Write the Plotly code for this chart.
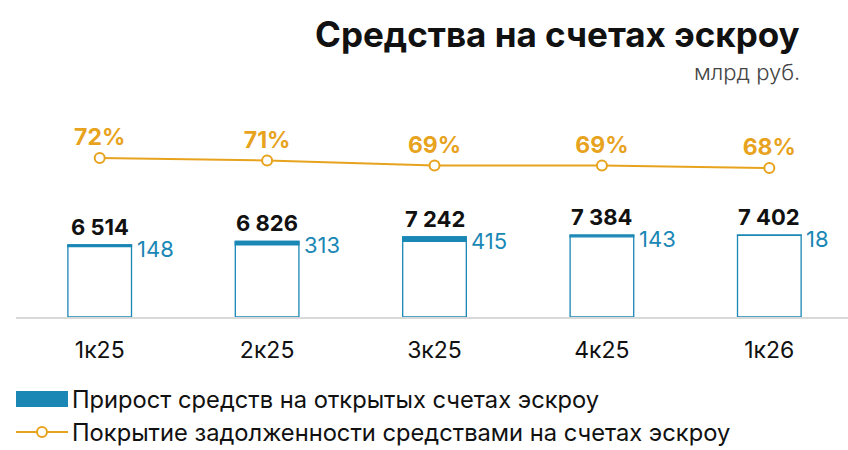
import plotly.graph_objects as go

quarters = ["1к25", "2к25", "3к25", "4к25", "1к26"]
escrow_total = [6514, 6826, 7242, 7384, 7402]
escrow_growth = [148, 313, 415, 143, 18]
coverage_pct = [72, 71, 69, 69, 68]

BLUE = "#1a87b5"
ORANGE = "#e8a31e"
FONT = "Inter"

def fmt(v):
    return f"{v:,}".replace(",", " ")

x = list(range(len(quarters)))
bar_w = 0.38

fig = go.Figure()

# whole bar: white with a blue outline
fig.add_trace(go.Bar(
    x=x, y=escrow_total, width=bar_w,
    marker=dict(color="white", line=dict(color=BLUE, width=1.3)),
    hoverinfo="skip", showlegend=False,
))
# growth part sitting on top of the bar
fig.add_trace(go.Bar(
    x=x, y=escrow_growth, base=[t - g for t, g in zip(escrow_total, escrow_growth)],
    width=bar_w, marker=dict(color=BLUE, line=dict(color=BLUE, width=1.3)),
    name="Прирост средств на открытых счетах эскроу", showlegend=False,
))
fig.add_trace(go.Scatter(
    x=x, y=coverage_pct, yaxis="y2", mode="lines+markers+text",
    line=dict(color=ORANGE, width=2),
    marker=dict(symbol="circle", size=10, color="white", line=dict(color=ORANGE, width=2)),
    text=[f"{v}%" for v in coverage_pct], textposition="top center",
    textfont=dict(family=FONT, size=23, color=ORANGE, weight="bold"),
    name="Покрытие задолженности средствами на счетах эскроу", showlegend=False,
))

annotations = []
for i, (t, g) in enumerate(zip(escrow_total, escrow_growth)):
    annotations.append(dict(
        x=i, y=t, xref="x", yref="y", text=fmt(t), showarrow=False,
        yanchor="bottom", yshift=3,
        font=dict(family=FONT, size=22, color="#111111", weight="bold"),
    ))
    annotations.append(dict(
        x=i + bar_w / 2, y=t, xref="x", yref="y", text=fmt(g), showarrow=False,
        xanchor="left", yanchor="middle", xshift=3, yshift=-4,
        font=dict(family=FONT, size=22, color=BLUE),
    ))

# title and units
annotations.append(dict(
    x=802, y=450 - 34, xref="paper", yref="paper", text="<b>Средства на счетах эскроу</b>",
    showarrow=False, xanchor="right", yanchor="middle",
    font=dict(family=FONT, size=35, color="#111111"),
))
annotations.append(dict(
    x=802, y=450 - 72, xref="paper", yref="paper", text="млрд руб.",
    showarrow=False, xanchor="right", yanchor="middle",
    font=dict(family=FONT, size=22, color="#444444", weight=300),
))

# hand-made legend
legend_items = ["Прирост средств на открытых счетах эскроу",
                "Покрытие задолженности средствами на счетах эскроу"]
annotations.append(dict(
    x=70, y=450 - 399, xref="paper", yref="paper", text=legend_items[0],
    showarrow=False, xanchor="left", yanchor="middle",
    font=dict(family=FONT, size=23.7, color="#111111"),
))
annotations.append(dict(
    x=70, y=450 - 432, xref="paper", yref="paper", text=legend_items[1],
    showarrow=False, xanchor="left", yanchor="middle",
    font=dict(family=FONT, size=23.7, color="#111111"),
))

shapes = [
    dict(type="rect", xref="paper", yref="paper", x0=16, x1=68, y0=450 - 407, y1=450 - 391,
         fillcolor=BLUE, line=dict(width=0)),
    dict(type="line", xref="paper", yref="paper", x0=16, x1=68, y0=450 - 432, y1=450 - 432,
         line=dict(color=ORANGE, width=2)),
    dict(type="circle", xref="paper", yref="paper", x0=37, x1=47, y0=450 - 437, y1=450 - 427,
         fillcolor="white", line=dict(color=ORANGE, width=2)),
]

# convert pixel-based paper coords to fractions of the plot area
L, R, T, B = 16, 0, 100, 133
pw, ph = 848 - L - R, 450 - T - B
for a in annotations:
    if a["xref"] == "paper":
        a["x"] = (a["x"] - L) / pw
        a["y"] = (a["y"] - B) / ph
for s in shapes:
    s["x0"] = (s["x0"] - L) / pw
    s["x1"] = (s["x1"] - L) / pw
    s["y0"] = (s["y0"] - B) / ph
    s["y1"] = (s["y1"] - B) / ph

fig.update_layout(
    width=848, height=450,
    margin=dict(l=L, r=R, t=T, b=B),
    paper_bgcolor="white", plot_bgcolor="white",
    barmode="overlay",
    xaxis=dict(
        range=[-0.5, 4.47], tickmode="array", tickvals=x, ticktext=quarters,
        showline=True, linecolor="#d9d9d9", linewidth=1.5, showgrid=False, zeroline=False,
        ticks="outside", ticklen=12, tickcolor="rgba(0,0,0,0)",
        tickfont=dict(family=FONT, size=23, color="#111111"),
    ),
    yaxis=dict(range=[0, 19600], visible=False),
    yaxis2=dict(range=[8.4, 95.2], overlaying="y", visible=False),
    annotations=annotations, shapes=shapes,
    showlegend=False,
)

fig.write_html("out.html", config={"displayModeBar": False},
               post_script="document.body.style.margin='0';")
